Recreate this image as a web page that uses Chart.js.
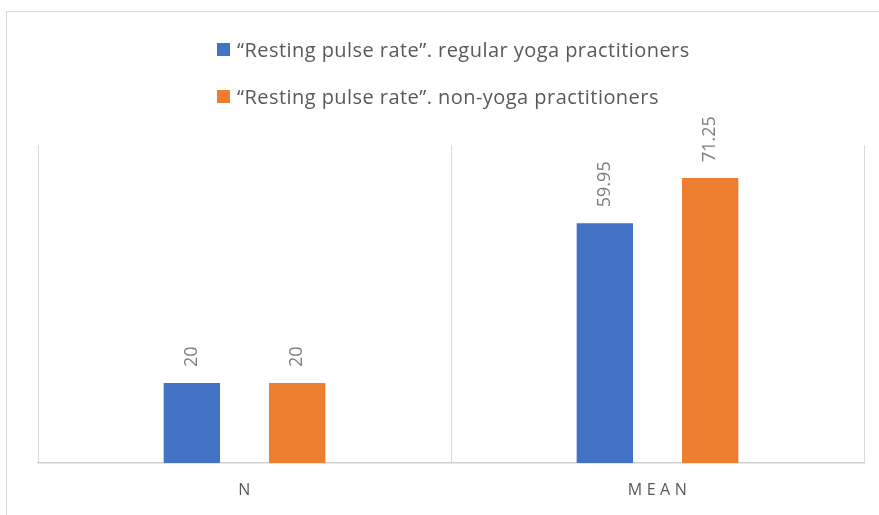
<!DOCTYPE html>
<html>
<head>
<meta charset="utf-8">
<script src="https://cdn.jsdelivr.net/npm/chart.js@4.4.1/dist/chart.umd.min.js"></script>
<style>
  html, body { margin: 0; padding: 0; background: #fff; overflow: hidden; }
  #wrap { position: relative; width: 879px; height: 515px; }
  #frame { position: absolute; left: 6px; top: 11px; width: 900px; height: 600px; border: 1px solid #d9d9d9; box-sizing: border-box; }
  #legend { position: absolute; left: 217px; top: 35px; font-family: 'Open Sans', sans-serif; font-size: 20px; color: #595959; }
  .leg-item { display: flex; align-items: center; height: 28px; margin-bottom: 19px; white-space: nowrap; letter-spacing: 0.45px; }
  .leg-box { width: 13px; height: 13px; margin-right: 7px; flex: none; }
  canvas { position: absolute; left: 0; top: 0; }
</style>
</head>
<body>
<div id="wrap">
  <div id="frame"></div>
  <canvas id="chart" width="879" height="515"></canvas>
  <div id="legend"></div>
</div>
<script>
// chart data
const categories = ['N', 'MEAN']
const seriesNames = ['\u201CResting pulse rate\u201D. regular yoga practitioners', '\u201CResting pulse rate\u201D. non-yoga practitioners']
const yogaValues = [20, 59.95]
const nonYogaValues = [20, 71.25]
const seriesColors = ['#4472C4', '#ED7D31']

const legendEl = document.getElementById('legend')
legendEl.innerHTML = seriesNames.map((name, i) => `
  <div class="leg-item">
    <div class="leg-box" style="background:${seriesColors[i]}"></div>
    <span>${name}</span>
  </div>`).join('')

// rotated value labels above each bar
const barLabels = {
  id: 'barLabels',
  afterDatasetsDraw(chart) {
    const ctx = chart.ctx
    ctx.save()
    ctx.fillStyle = '#7f7f7f'
    ctx.font = '18px "Open Sans"'
    ctx.textAlign = 'left'
    ctx.textBaseline = 'middle'
    chart.data.datasets.forEach((ds, di) => {
      chart.getDatasetMeta(di).data.forEach((bar, i) => {
        ctx.save()
        ctx.translate(bar.x, bar.y - 16)
        ctx.rotate(-Math.PI / 2)
        ctx.fillText(String(ds.data[i]), 0, 0)
        ctx.restore()
      })
    })
    ctx.restore()
  }
}

// category labels with letter spacing, placed through the x scale
const catLabels = {
  id: 'catLabels',
  afterDraw(chart) {
    const ctx = chart.ctx
    const xAxis = chart.scales.x
    ctx.save()
    ctx.fillStyle = '#595959'
    ctx.font = '16px "Open Sans"'
    ctx.letterSpacing = '4.5px'
    ctx.textAlign = 'center'
    ctx.textBaseline = 'middle'
    categories.forEach((c, i) => {
      ctx.fillText(c, xAxis.getPixelForValue(i) + 2, xAxis.bottom + 27)
    })
    ctx.restore()
  }
}

new Chart(document.getElementById('chart'), {
  type: 'bar',
  data: {
    labels: categories,
    datasets: [
      { label: seriesNames[0], data: yogaValues, backgroundColor: seriesColors[0] },
      { label: seriesNames[1], data: nonYogaValues, backgroundColor: seriesColors[1] }
    ]
  },
  options: {
    responsive: false,
    animation: false,
    datasets: { bar: { categoryPercentage: 0.51, barPercentage: 0.535 } },
    layout: { padding: { top: 145, left: 38, right: 15, bottom: 52 } },
    plugins: { legend: { display: false }, tooltip: { enabled: false } },
    scales: {
      x: {
        grid: { color: '#d9d9d9', drawTicks: false, offset: true },
        border: { color: '#d0d0d0', width: 1.5 },
        ticks: { display: false }
      },
      y: { display: false, min: 0, max: 79.5 }
    }
  },
  plugins: [barLabels, catLabels]
})
</script>
</body>
</html>
